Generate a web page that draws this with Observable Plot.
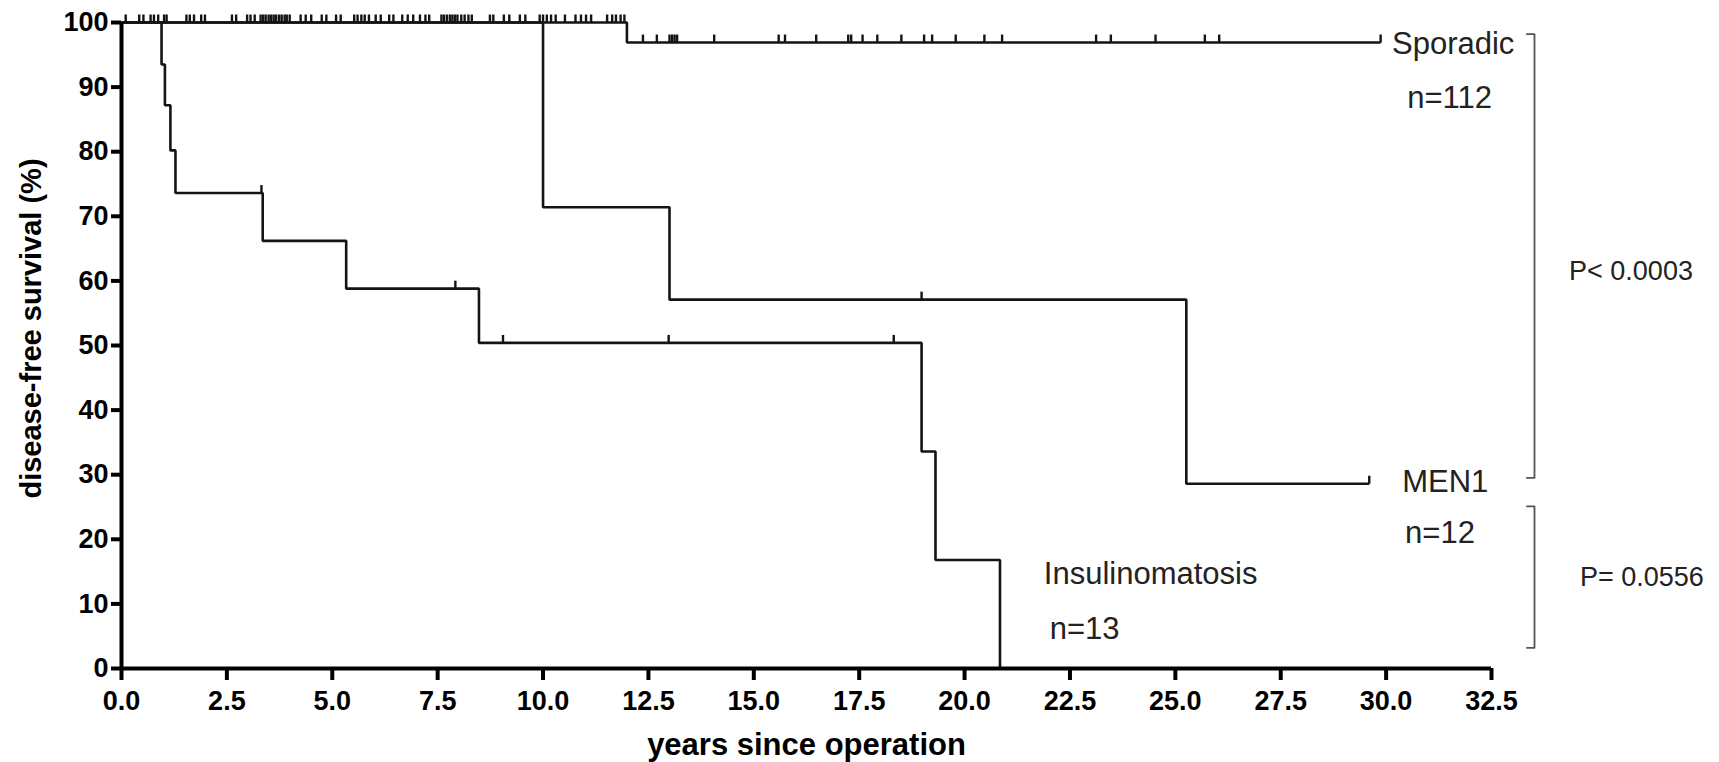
<!DOCTYPE html>
<html>
<head>
<meta charset="utf-8">
<script src="https://cdn.jsdelivr.net/npm/d3@7"></script>
<script src="https://cdn.jsdelivr.net/npm/@observablehq/plot@0.6"></script>
<style>
  html, body { margin: 0; padding: 0; background: #fff; }
  #chart { width: 1719px; height: 762px; overflow: hidden; }
</style>
</head>
<body>
<div id="chart"></div>
<script>
// ---------- data ----------
const xTicks = [0, 2.5, 5, 7.5, 10, 12.5, 15, 17.5, 20, 22.5, 25, 27.5, 30, 32.5];
const yTicks = [0, 10, 20, 30, 40, 50, 60, 70, 80, 90, 100];

const groupNames = ["Sporadic", "MEN1", "Insulinomatosis"];
const groupSizes = ["n=112", "n=12", "n=13"];
const pValues = ["P< 0.0003", "P= 0.0556"];

// Kaplan-Meier step points (time in years, survival in %)
const sporadicTimes = [0, 11.99, 29.87];
const sporadicSurv  = [100, 96.9, 96.9];
const sporadicCensored = [
  0.1, 0.42, 0.52, 0.69, 0.77, 0.87, 1.01, 1.07, 1.54, 1.62, 1.72, 1.89, 1.98,
  2.62, 2.72, 2.98, 3.06, 3.16, 3.30, 3.36, 3.42, 3.49, 3.55, 3.61, 3.67, 3.74,
  3.80, 3.87, 3.92, 3.99, 4.25, 4.37, 4.50, 4.75, 4.86, 5.09, 5.20, 5.52, 5.60,
  5.69, 5.77, 5.87, 6.03, 6.15, 6.35, 6.45, 6.66, 6.79, 6.92, 7.08, 7.21, 7.30,
  7.59, 7.65, 7.72, 7.79, 7.85, 7.91, 7.97, 8.06, 8.14, 8.23, 8.31, 8.74, 8.82,
  9.07, 9.20, 9.45, 9.58, 9.92, 10.0, 10.09, 10.19, 10.30, 10.52, 10.77, 10.90,
  11.02, 11.14, 11.52, 11.64, 11.73, 11.84, 11.93,
  12.37, 12.70, 13.0, 13.06, 13.12, 13.18, 14.06, 15.59, 15.74, 16.48, 17.24,
  17.31, 17.58, 17.93, 18.5, 19.04, 19.23, 19.79, 20.47, 20.89, 23.12, 23.47,
  24.53, 25.7, 26.04, 29.87
];

const men1Times = [0, 10.0, 13.0, 25.26, 29.6];
const men1Surv  = [100, 71.4, 57.1, 28.6, 28.6];
const men1Censored = [18.98, 29.6];

const insulTimes = [0, 0.95, 1.03, 1.16, 1.28, 3.35, 5.33, 8.48, 18.98, 19.31, 20.84];
const insulSurv  = [100, 93.5, 87.2, 80.2, 73.6, 66.2, 58.8, 50.4, 33.6, 16.8, 0];
const insulCensored = [3.32, 7.92, 9.05, 12.98, 18.32];

// ---------- build tables ----------
const series = [
  {name: groupNames[0], times: sporadicTimes, surv: sporadicSurv, cens: sporadicCensored},
  {name: groupNames[1], times: men1Times, surv: men1Surv, cens: men1Censored},
  {name: groupNames[2], times: insulTimes, surv: insulSurv, cens: insulCensored}
];
function survAt(times, surv, t) {
  const i = d3.bisectRight(times, t) - 1;
  return surv[Math.max(0, i)];
}
const curveRows = series.flatMap(s => s.times.map((t, i) => ({group: s.name, t, s: s.surv[i]})));
const censorRows = series.flatMap(s => s.cens.map(t => ({group: s.name, t, s: survAt(s.times, s.surv, t)})));

// vertical censor tick, drawn upward from the curve
const censorSymbol = {
  draw(ctx, size) {
    const l = Math.sqrt(size / Math.PI);
    ctx.moveTo(0, 0);
    ctx.lineTo(0, -l);
  }
};

// ---------- annotation layout ----------
const nameLayout = [
  {x: 30.14, y: 96.7},
  {x: 30.38, y: 28.9},
  {x: 21.88, y: 14.6}
];
const sizeLayout = [
  {x: 30.5, y: 88.3},
  {x: 30.45, y: 21.0},
  {x: 22.02, y: 6.1}
];
const pLayout = [
  {x: 34.34, y: 61.4},
  {x: 34.6, y: 14.1}
];
const brackets = [
  [[33.34, 98.2], [33.52, 98.2], [33.52, 29.5], [33.34, 29.5]],
  [[33.34, 25.1], [33.52, 25.1], [33.52, 3.2], [33.34, 3.2]]
];

const ink = "#141414";
const font = "'Liberation Sans', Arial, Helvetica, sans-serif";

const chart = Plot.plot({
  width: 1719,
  height: 762,
  marginLeft: 121,
  marginRight: 228,
  marginTop: 22,
  marginBottom: 94,
  style: {fontFamily: font, background: "#fff", color: ink, overflow: "visible"},
  x: {domain: [0, 32.5]},
  y: {domain: [0, 100]},
  marks: [
    Plot.line(curveRows, {
      x: "t", y: "s", z: "group", curve: "step-after",
      stroke: ink, strokeWidth: 2.6, strokeLinejoin: "miter", strokeLinecap: "butt"
    }),
    Plot.dot(censorRows, {
      x: "t", y: "s", symbol: censorSymbol, r: 8,
      fill: "none", stroke: ink, strokeWidth: 2.4
    }),
    Plot.ruleY([0], {stroke: "#000", strokeWidth: 4}),
    Plot.ruleX([0], {stroke: "#000", strokeWidth: 4}),
    Plot.axisX({
      ticks: xTicks, tickFormat: d3.format(".1f"), tickSize: 12, tickPadding: 10,
      stroke: "#000", strokeWidth: 4, fill: "#000",
      fontSize: 27, fontWeight: "bold", label: null
    }),
    Plot.axisY({
      ticks: yTicks, tickFormat: d3.format("d"), tickSize: 10, tickPadding: 3,
      stroke: "#000", strokeWidth: 4, fill: "#000",
      fontSize: 27, fontWeight: "bold", label: null
    }),
    Plot.text(["years since operation"], {
      text: d => d, frameAnchor: "bottom", textAnchor: "middle", lineAnchor: "middle", dy: 77,
      fontSize: 31, fontWeight: "bold", fill: "#000"
    }),
    Plot.text(["disease-free survival (%)"], {
      text: d => d, frameAnchor: "left", textAnchor: "middle", rotate: -90, dx: -90, dy: -17,
      lineAnchor: "middle", fontSize: 29, fontWeight: "bold", fill: "#000"
    }),
    Plot.text(groupNames, {
      text: d => d, x: (d, i) => nameLayout[i].x, y: (d, i) => nameLayout[i].y,
      textAnchor: "start", lineAnchor: "middle", fontSize: 31, fill: "#222"
    }),
    Plot.text(groupSizes, {
      text: d => d, x: (d, i) => sizeLayout[i].x, y: (d, i) => sizeLayout[i].y,
      textAnchor: "start", lineAnchor: "middle", fontSize: 31, fill: "#222"
    }),
    Plot.text(pValues, {
      text: d => d, x: (d, i) => pLayout[i].x, y: (d, i) => pLayout[i].y,
      textAnchor: "start", lineAnchor: "middle", fontSize: 27, fill: "#222"
    }),
    ...brackets.map(b => Plot.line(b, {stroke: "#555", strokeWidth: 1.8}))
  ]
});

document.getElementById("chart").appendChild(chart);
</script>
</body>
</html>
